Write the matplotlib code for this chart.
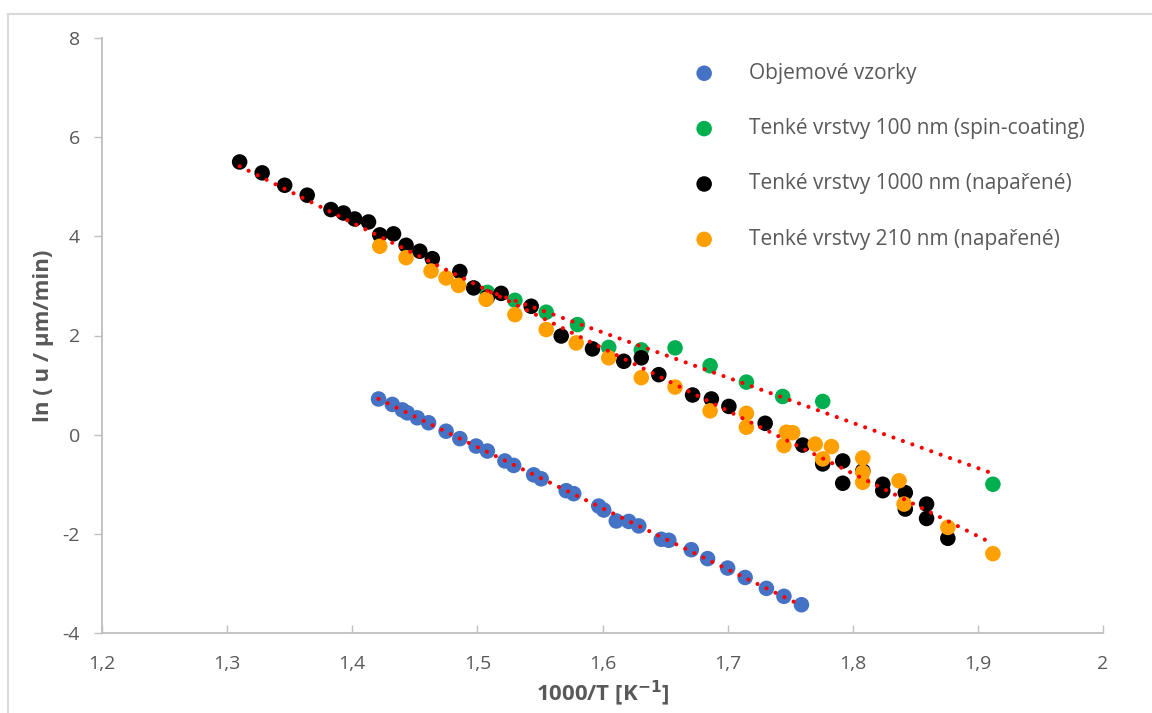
import numpy as np
import matplotlib
matplotlib.use("Agg")
import matplotlib.pyplot as plt
from matplotlib.lines import Line2D

# ---------------- data ----------------
blue_x = [1.421, 1.432, 1.440, 1.444, 1.452, 1.461, 1.475, 1.486, 1.499, 1.508,
          1.522, 1.529, 1.545, 1.551, 1.571, 1.577, 1.597, 1.601, 1.611, 1.621,
          1.629, 1.647, 1.653, 1.671, 1.684, 1.700, 1.714, 1.731, 1.745, 1.759]
blue_y = [0.72, 0.61, 0.50, 0.44, 0.34, 0.24, 0.07, -0.08, -0.23, -0.33,
          -0.53, -0.62, -0.81, -0.89, -1.13, -1.19, -1.44, -1.52, -1.74, -1.75,
          -1.84, -2.11, -2.13, -2.32, -2.50, -2.69, -2.88, -3.10, -3.26, -3.43]

green_x = [1.508, 1.530, 1.555, 1.580, 1.605, 1.631, 1.658, 1.686, 1.715, 1.744,
           1.776, 1.912]
green_y = [2.87, 2.71, 2.47, 2.22, 1.76, 1.71, 1.75, 1.39, 1.06, 0.77,
           0.67, -1.00]

black_x = [1.310, 1.328, 1.346, 1.364, 1.383, 1.393, 1.402, 1.413, 1.422, 1.433,
           1.443, 1.454, 1.464, 1.486, 1.497, 1.508, 1.519, 1.543, 1.567, 1.592,
           1.617, 1.631, 1.645, 1.672, 1.687, 1.701, 1.730, 1.760, 1.776, 1.792,
           1.792, 1.808, 1.824, 1.824, 1.842, 1.842, 1.859, 1.859, 1.876]
black_y = [5.50, 5.28, 5.03, 4.83, 4.54, 4.47, 4.35, 4.29, 4.03, 4.05,
           3.82, 3.70, 3.55, 3.29, 2.96, 2.77, 2.85, 2.59, 1.99, 1.73,
           1.48, 1.55, 1.21, 0.80, 0.72, 0.57, 0.23, -0.21, -0.59, -0.53,
           -0.98, -0.73, -1.00, -1.13, -1.17, -1.50, -1.40, -1.69, -2.09]

orange_x = [1.422, 1.443, 1.463, 1.475, 1.485, 1.507, 1.530, 1.555, 1.579, 1.605,
            1.631, 1.658, 1.686, 1.715, 1.715, 1.747, 1.752, 1.745, 1.770, 1.783,
            1.776, 1.808, 1.808, 1.808, 1.837, 1.841, 1.876, 1.912]
orange_y = [3.80, 3.57, 3.30, 3.16, 3.01, 2.73, 2.42, 2.12, 1.85, 1.55,
            1.15, 0.96, 0.48, 0.43, 0.15, 0.05, 0.04, -0.22, -0.19, -0.24,
            -0.49, -0.47, -0.76, -0.96, -0.93, -1.40, -1.87, -2.40]

labels = ["Objemové vzorky",
          "Tenké vrstvy 100 nm (spin-coating)",
          "Tenké vrstvy 1000 nm (napařené)",
          "Tenké vrstvy 210 nm (napařené)"]
colors = ["#4472C4", "#00B050", "#000000", "#FFA000"]

x_ticks = [1.2, 1.3, 1.4, 1.5, 1.6, 1.7, 1.8, 1.9, 2.0]
x_tick_labels = ["1,2", "1,3", "1,4", "1,5", "1,6", "1,7", "1,8", "1,9", "2"]
y_ticks = [-4, -2, 0, 2, 4, 6, 8]

# ---------------- figure ----------------
plt.rcParams['font.family'] = ['Open Sans', 'DejaVu Sans']
plt.rcParams['axes.unicode_minus'] = False
fig = plt.figure(figsize=(11.52, 7.13), dpi=100)
ax = fig.add_axes([102/1152, 1 - 633/713, (1103-102)/1152, (633-38)/713])

series = [(blue_x, blue_y), (green_x, green_y), (black_x, black_y), (orange_x, orange_y)]
for (xs, ys), c, lab in zip(series, colors, labels):
    ax.scatter(xs, ys, s=125, color=c, edgecolors='none', label=lab, zorder=3)

# linear trend lines (dotted red): bulk, spin-coated, evaporated (combined)
trend_sets = [(blue_x, blue_y), (green_x, green_y),
              (black_x + orange_x, black_y + orange_y)]
for xs, ys in trend_sets:
    xs_a = np.array(xs); ys_a = np.array(ys)
    k, q = np.polyfit(xs_a, ys_a, 1)
    xx = np.array([xs_a.min(), xs_a.max()])
    ax.plot(xx, k*xx + q, color='#FF0000', linewidth=3.0,
            linestyle=(0, (0.01, 2.4)), dash_capstyle='round', zorder=4)

ax.set_xlim(1.2, 2.0)
ax.set_ylim(-4, 8)
ax.set_xticks(x_ticks)
ax.set_xticklabels(x_tick_labels)
ax.set_yticks(y_ticks)

for s in ['top', 'right']:
    ax.spines[s].set_visible(False)
for s in ['left', 'bottom']:
    ax.spines[s].set_color('#BFBFBF')
    ax.spines[s].set_linewidth(1.3)

ax.tick_params(axis='x', direction='in', length=6, width=1, color='#BFBFBF',
               labelsize=14, labelcolor='#595959', pad=16)
ax.tick_params(axis='y', direction='out', length=6, width=1, color='#BFBFBF',
               labelsize=14, labelcolor='#595959', pad=10)

ax.set_xlabel(r'1000/T [K$^{\mathbf{-1}}$]', fontsize=16, fontweight='bold',
              color='#595959', labelpad=4)
ax.set_ylabel('ln ( u / µm/min)', fontsize=16, fontweight='bold',
              color='#595959', labelpad=6)

leg = ax.legend(loc='upper left', bbox_to_anchor=(0.562, 0.99), frameon=False,
                fontsize=15, labelspacing=1.65, handletextpad=1.15,
                markerscale=1.0, scatterpoints=1)
for t in leg.get_texts():
    t.set_color('#595959')

# chart-area border (left and top visible)
fig.add_artist(Line2D([8/1152, 8/1152], [0, 1 - 14/713], transform=fig.transFigure,
                      color='#D9D9D9', linewidth=1.5))
fig.add_artist(Line2D([8/1152, 1], [1 - 14/713, 1 - 14/713], transform=fig.transFigure,
                      color='#D9D9D9', linewidth=1.5))

fig.savefig('out.png', dpi=100, facecolor='white')
